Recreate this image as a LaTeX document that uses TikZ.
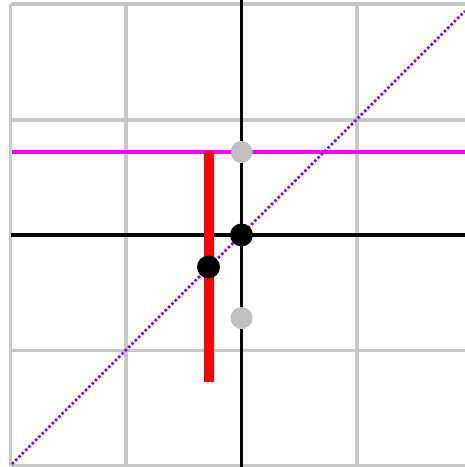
\documentclass[tikz,border=0pt]{standalone}
\begin{document}
\begin{tikzpicture}[x=1pt,y=-1pt,
  gridline/.style={draw={rgb,255:red,200;green,200;blue,200},line width=3.4pt},
  axisline/.style={draw=black,line width=3.4pt},
  pinkline/.style={draw={rgb,255:red,255;green,0;blue,255},line width=3.2pt},
  diagline/.style={draw={rgb,255:red,128;green,0;blue,255},line width=2.6pt,dash pattern=on 2.5pt off 2.2pt},
  redbar/.style={draw={rgb,255:red,255;green,0;blue,0},line width=10pt},
  blackdot/.style={circle,fill=black,inner sep=0pt,minimum size=23pt},
  graydot/.style={circle,fill={rgb,255:red,192;green,192;blue,192},inner sep=0pt,minimum size=22pt}]
\useasboundingbox (0,0) rectangle (465,467);
% grid
\coordinate (gt0) at (10.5,4); \coordinate (gb0) at (10.5,466);
\coordinate (gt1) at (126,4); \coordinate (gb1) at (126,466);
\coordinate (gt3) at (357,4); \coordinate (gb3) at (357,466);
\coordinate (gl0) at (10.5,4); \coordinate (gr0) at (465,4);
\coordinate (gl1) at (10.5,120); \coordinate (gr1) at (465,120);
\coordinate (gl3) at (10.5,350.5); \coordinate (gr3) at (465,350.5);
\coordinate (gl4) at (10.5,465.5); \coordinate (gr4) at (465,465.5);
\path[gridline] (gt0)--(gb0) (gt1)--(gb1) (gt3)--(gb3)
  (gl0)--(gr0) (gl1)--(gr1) (gl3)--(gr3) (gl4)--(gr4);
% axes
\coordinate (at) at (241.5,0); \coordinate (ab) at (241.5,467);
\coordinate (al) at (10.5,235); \coordinate (ar) at (465,235);
\path[axisline] (at)--(ab) (al)--(ar);
% pink line
\coordinate (pl) at (12,152); \coordinate (pr) at (465,152);
\path[pinkline] (pl)--(pr);
% diagonal
\coordinate (d1) at (12,464); \coordinate (d2) at (465,11);
\path[diagline] (d1)--(d2);
% red bar
\coordinate (rt) at (209,151); \coordinate (rb) at (209,382);
\path[redbar] (rt)--(rb);
% dots
\node[graydot] (g1) at (241.5,152) {};
\node[graydot] (g2) at (241.5,318) {};
\node[blackdot] (b1) at (241.5,235) {};
\node[blackdot] (b2) at (208.5,267) {};
\end{tikzpicture}
\end{document}
